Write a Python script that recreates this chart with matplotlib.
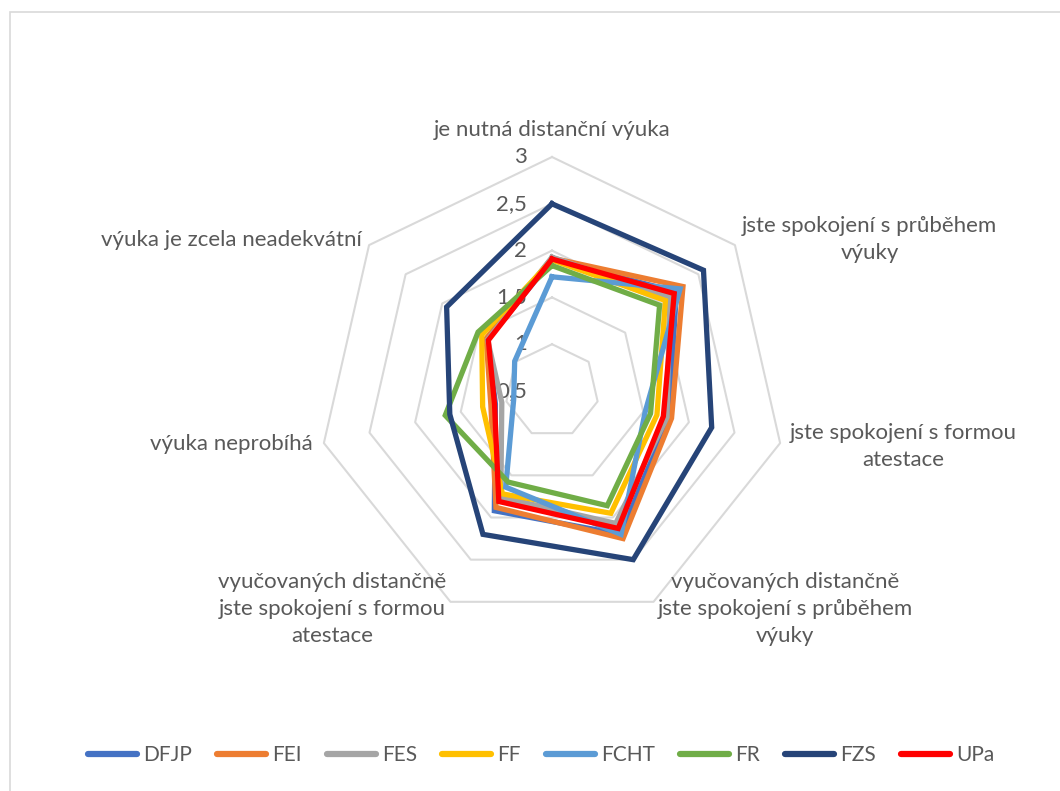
import numpy as np
import matplotlib
matplotlib.use("Agg")
import matplotlib.pyplot as plt
from matplotlib.lines import Line2D
from matplotlib.patches import Rectangle

# ---------------- data ----------------
categories = [
    "je nutná distanční výuka",
    "jste spokojení s průběhem\nvýuky",
    "jste spokojení s formou\natestace",
    "vyučovaných distančně\njste spokojení s průběhem\nvýuky",
    "vyučovaných distančně\njste spokojení s formou\natestace",
    "výuka neprobíhá",
    "výuka je zcela neadekvátní",
]
series_names = ["DFJP", "FEI", "FES", "FF", "FCHT", "FR", "FZS", "UPa"]
DFJP = [1.90, 2.20, 1.78, 2.20, 1.92, 1.12, 1.38]
FEI = [1.92, 2.29, 1.81, 2.25, 1.88, 1.17, 1.40]
FES = [1.93, 2.11, 1.76, 2.07, 1.76, 1.05, 1.38]
FF = [1.90, 2.05, 1.65, 1.95, 1.72, 1.26, 1.46]
FCHT = [1.72, 2.25, 1.52, 2.20, 1.64, 0.92, 1.01]
FR = [1.84, 1.97, 1.58, 1.86, 1.58, 1.67, 1.51]
FZS = [2.50, 2.57, 2.25, 2.50, 2.20, 1.62, 1.94]
UPa = [1.91, 2.17, 1.72, 2.13, 1.81, 1.13, 1.37]
tick_values = [0.5, 1.0, 1.5, 2.0, 2.5, 3.0]
tick_labels = ["0,5", "1", "1,5", "2", "2,5", "3"]

colors = ["#4472C4", "#ED7D31", "#A5A5A5", "#FFC000", "#5B9BD5", "#70AD47", "#264478", "#FF0000"]
series_values = [DFJP, FEI, FES, FF, FCHT, FR, FZS, UPa]

# ---------------- figure ----------------
FONT = ["Lato", "DejaVu Sans"]
TXT = "#595959"
W, H = 1060, 791
fig = plt.figure(figsize=(W / 100, H / 100), dpi=100)
fig.patch.set_facecolor("white")

# chart area border (cropped on right/bottom as in reference)
fig.patches.append(Rectangle((10 / W, -0.05), 1.2, 1 - 12 / H + 0.05,
                             transform=fig.transFigure, fill=False,
                             edgecolor="#D9D9D9", lw=1.2))

cx, cy, R = 552, 391, 234
ax = fig.add_axes([(cx - R) / W, (H - cy - R) / H, 2 * R / W, 2 * R / H], projection="polar")
ax.set_theta_offset(np.pi / 2)
ax.set_theta_direction(-1)
ax.set_ylim(0.5, 3.0)
ax.grid(False)
ax.set_xticks([])
ax.set_yticks([])
ax.spines["polar"].set_visible(False)
ax.patch.set_alpha(0)

N = len(categories)
angles = np.arange(N) * 2 * np.pi / N
closed = np.append(angles, angles[0])

# heptagonal grid rings
for v in tick_values[1:]:
    ax.plot(closed, [v] * (N + 1), color="#D9D9D9", lw=1.5, zorder=1, clip_on=False)

# radial tick labels
for v, lbl in zip(tick_values, tick_labels):
    ax.annotate(lbl, xy=(0, v), xytext=(-18, 0), textcoords="offset points",
                ha="right", va="center", fontsize=16, color=TXT, family=FONT,
                zorder=2, annotation_clip=False)

# series
for name, vals, col in zip(series_names, series_values, colors):
    ax.plot(closed, list(vals) + [vals[0]], color=col, lw=3.8,
            solid_joinstyle="miter", zorder=3, clip_on=False, label=name)

# category labels
label_styles = [
    dict(ha="center", off=(0, 19.4)),
    dict(ha="left", off=(5, 4.3)),
    dict(ha="left", off=(7.2, -2.2)),
    dict(ha="left", off=(2.9, -5)),
    dict(ha="right", off=(-2.9, -5)),
    dict(ha="right", off=(-7.9, -0.7)),
    dict(ha="right", off=(-5, 3.6)),
]
for ang, cat, st in zip(angles, categories, label_styles):
    ax.annotate(cat, xy=(ang, 3.0), xytext=st["off"], textcoords="offset points",
                ha=st["ha"], va="center", multialignment="center",
                fontsize=16, color=TXT, family=FONT, linespacing=1.45,
                annotation_clip=False)

# legend
handles = [Line2D([0], [0], color=c, lw=4.5, solid_capstyle="round") for c in colors]
leg = fig.legend(handles, series_names, ncol=8, loc="center",
                 bbox_to_anchor=(541 / W, 1 - 755 / H), frameon=False,
                 handlelength=2.35, handletextpad=0.3, columnspacing=1.2,
                 prop=dict(family=FONT, size=15))
for t in leg.get_texts():
    t.set_color(TXT)

fig.savefig("out.png", dpi=100, facecolor="white")
